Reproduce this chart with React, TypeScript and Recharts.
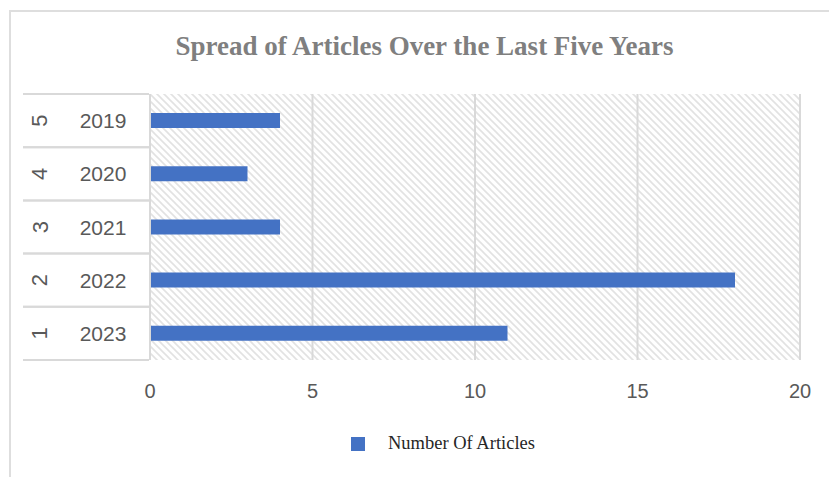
import React from 'react';
import { BarChart, Bar, XAxis, YAxis, CartesianGrid } from 'recharts';

// category order as in the sheet: rank 1 is the bottom row
const ranks = ['1', '2', '3', '4', '5'];
const years = ['2023', '2022', '2021', '2020', '2019'];
const articles = [11, 18, 4, 3, 4];
const xTicks = [0, 5, 10, 15, 20];
const seriesName = 'Number Of Articles';

const data = years.map((year, i) => ({ rank: ranks[i], year, articles: articles[i] }));

const BAND = 266 / 5;

const TwoLevelTick = (props: any) => {
  const { y, payload, index } = props;
  const row = data[index] ?? data.find((d) => d.year === payload.value);
  return (
    <g>
      <line x1={23} x2={149} y1={y - BAND / 2} y2={y - BAND / 2} stroke="#d9d9d9" strokeWidth={2} />
      <line x1={23} x2={149} y1={y + BAND / 2} y2={y + BAND / 2} stroke="#d9d9d9" strokeWidth={2} />
      <text
        x={40}
        y={y}
        transform={`rotate(-90, 40, ${y})`}
        textAnchor="middle"
        dominantBaseline="central"
        fill="#595959"
        fontSize={22}
        fontFamily="'Liberation Sans', Arial, sans-serif"
      >
        {row ? row.rank : ''}
      </text>
      <text
        x={103}
        y={y}
        textAnchor="middle"
        dominantBaseline="central"
        fill="#595959"
        fontSize={21}
        fontFamily="'Liberation Sans', Arial, sans-serif"
      >
        {payload.value}
      </text>
    </g>
  );
};

export default function App() {
  return (
    <div style={{ position: 'fixed', left: 0, top: 0, width: 829, height: 477, overflow: 'hidden', background: '#fff' }}>
      <div
        style={{
          position: 'absolute',
          left: 9,
          top: 10,
          width: 900,
          height: 600,
          borderLeft: '2px solid #dedede',
          borderTop: '2px solid #dedede',
        }}
      />
      <div
        style={{
          position: 'absolute',
          left: 0,
          width: 849,
          top: 29,
          textAlign: 'center',
          fontFamily: "'Liberation Serif', 'Times New Roman', serif",
          fontWeight: 'bold',
          fontSize: 27,
          lineHeight: '34px',
          color: '#7f7f7f',
        }}
      >
        Spread of Articles Over the Last Five Years
      </div>
      <div style={{ position: 'absolute', left: 0, top: 0 }}>
        <BarChart
          width={829}
          height={477}
          data={data}
          layout="vertical"
          margin={{ top: 94, right: 29, bottom: 77, left: 0 }}
          barCategoryGap={0}
        >
          <defs>
            <pattern id="hatch" width="7" height="7" patternUnits="userSpaceOnUse">
              <rect width="7" height="7" fill="#ffffff" />
              <path d="M-1,-1 L8,8 M-1,6 L1,8 M6,-1 L8,1" stroke="#e2e2e2" strokeWidth={1.6} />
            </pattern>
          </defs>
          <CartesianGrid horizontal={false} stroke="#d9d9d9" strokeWidth={2} fill="url(#hatch)" fillOpacity={1} />
          <XAxis
            type="number"
            domain={[0, 20]}
            ticks={xTicks}
            axisLine={false}
            tickLine={false}
            tickMargin={18}
            height={40}
            tick={{ fill: '#595959', fontSize: 20, fontFamily: "'Liberation Sans', Arial, sans-serif" }}
          />
          <YAxis
            type="category"
            dataKey="year"
            reversed
            width={150}
            axisLine={{ stroke: '#d9d9d9', strokeWidth: 2 }}
            tickLine={false}
            tick={<TwoLevelTick />}
          />
          <Bar dataKey="articles" name={seriesName} fill="#4472C4" barSize={15} isAnimationActive={false} />
        </BarChart>
      </div>
      <div
        style={{
          position: 'absolute',
          left: 351,
          top: 433,
          display: 'flex',
          alignItems: 'center',
          fontFamily: "'Liberation Serif', 'Times New Roman', serif",
          fontSize: 18.5,
          color: '#262626',
        }}
      >
        <span style={{ display: 'inline-block', width: 14, height: 14, background: '#4472C4', marginRight: 23 }} />
        <span>{seriesName}</span>
      </div>
    </div>
  );
}
